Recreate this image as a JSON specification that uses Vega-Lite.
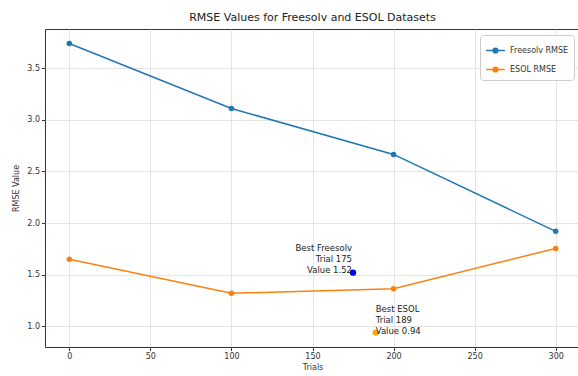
{
  "$schema": "https://vega.github.io/schema/vega-lite/v6.json",
  "autosize": {"type": "none"},
  "width": 535,
  "height": 318,
  "padding": {"left": 45, "top": 29, "right": 0, "bottom": 29},
  "background": "white",
  "config": {
    "font": "DejaVu Sans",
    "view": {"stroke": "#333333", "strokeWidth": 1},
    "axis": {
      "labelFont": "DejaVu Sans",
      "labelFontSize": 8,
      "labelColor": "#333333",
      "titleFont": "DejaVu Sans",
      "titleFontSize": 8,
      "titleFontWeight": "normal",
      "titleColor": "#333333",
      "gridColor": "#dddddd",
      "gridWidth": 0.8,
      "domain": false,
      "tickColor": "#333333",
      "tickSize": 3.5,
      "labelPadding": 2
    },
    "legend": {
      "labelFont": "DejaVu Sans",
      "labelFontSize": 8,
      "labelColor": "#333333"
    }
  },
  "title": {
    "text": "RMSE Values for Freesolv and ESOL Datasets",
    "fontSize": 11,
    "fontWeight": "normal",
    "font": "DejaVu Sans",
    "color": "#222222",
    "offset": 6
  },
  "datasets": {
    "rmse": [
      {"trial": 0, "value": 3.74, "series": "Freesolv RMSE"},
      {"trial": 100, "value": 3.11, "series": "Freesolv RMSE"},
      {"trial": 200, "value": 2.665, "series": "Freesolv RMSE"},
      {"trial": 300, "value": 1.92, "series": "Freesolv RMSE"},
      {"trial": 0, "value": 1.65, "series": "ESOL RMSE"},
      {"trial": 100, "value": 1.32, "series": "ESOL RMSE"},
      {"trial": 200, "value": 1.365, "series": "ESOL RMSE"},
      {"trial": 300, "value": 1.755, "series": "ESOL RMSE"}
    ],
    "best": [
      {"dataset": "Freesolv", "trial": 175, "value": 1.52, "label": "Best Freesolv\nTrial 175\nValue 1.52"},
      {"dataset": "ESOL", "trial": 189, "value": 0.94, "label": "Best ESOL\nTrial 189\nValue 0.94"}
    ]
  },
  "layer": [
    {
      "data": {"name": "rmse"},
      "mark": {"type": "line", "strokeWidth": 1.5, "clip": true, "point": {"filled": true, "size": 30}},
      "encoding": {
        "x": {
          "field": "trial", "type": "quantitative",
          "scale": {"domain": [-15, 315], "nice": false, "zero": false},
          "axis": {"title": "Trials", "values": [0, 50, 100, 150, 200, 250, 300], "titlePadding": 3}
        },
        "y": {
          "field": "value", "type": "quantitative",
          "scale": {"domain": [0.8, 3.88], "nice": false, "zero": false},
          "axis": {"title": "RMSE Value", "values": [1.0, 1.5, 2.0, 2.5, 3.0, 3.5], "format": ".1f", "titlePadding": 6}
        },
        "color": {
          "field": "series", "type": "nominal",
          "scale": {"domain": ["Freesolv RMSE", "ESOL RMSE"], "range": ["#1f77b4", "#ff7f0e"]},
          "legend": {
            "title": null,
            "orient": "top-right",
            "offset": 6,
            "padding": 5,
            "fillColor": "white",
            "strokeColor": "#cccccc",
            "cornerRadius": 3,
            "rowPadding": 3,
            "symbolType": "M-1,0H1M-0.25,0a0.25,0.25 0 1,0 0.5,0a0.25,0.25 0 1,0 -0.5,0",
            "symbolSize": 350,
            "symbolStrokeWidth": 1.5
          }
        },
        "order": {"field": "trial", "type": "quantitative"}
      }
    },
    {
      "data": {"name": "best"},
      "transform": [{"filter": "datum.dataset === 'Freesolv'"}],
      "mark": {"type": "circle", "color": "#0000ff", "size": 40, "opacity": 1},
      "encoding": {
        "x": {"field": "trial", "type": "quantitative"},
        "y": {"field": "value", "type": "quantitative"}
      }
    },
    {
      "data": {"name": "best"},
      "transform": [{"filter": "datum.dataset === 'ESOL'"}],
      "mark": {"type": "circle", "color": "#ffa500", "size": 40, "opacity": 1},
      "encoding": {
        "x": {"field": "trial", "type": "quantitative"},
        "y": {"field": "value", "type": "quantitative"}
      }
    },
    {
      "data": {"name": "best"},
      "transform": [{"filter": "datum.dataset === 'Freesolv'"}],
      "mark": {"type": "text", "align": "right", "baseline": "bottom", "lineBreak": "\n", "lineHeight": 11, "fontSize": 8.5, "color": "#222222", "dx": -1, "dy": -20},
      "encoding": {
        "x": {"field": "trial", "type": "quantitative"},
        "y": {"field": "value", "type": "quantitative"},
        "text": {"field": "label"}
      }
    },
    {
      "data": {"name": "best"},
      "transform": [{"filter": "datum.dataset === 'ESOL'"}],
      "mark": {"type": "text", "align": "left", "baseline": "bottom", "lineBreak": "\n", "lineHeight": 11, "fontSize": 8.5, "color": "#222222", "dx": 0, "dy": -19},
      "encoding": {
        "x": {"field": "trial", "type": "quantitative"},
        "y": {"field": "value", "type": "quantitative"},
        "text": {"field": "label"}
      }
    }
  ]
}
